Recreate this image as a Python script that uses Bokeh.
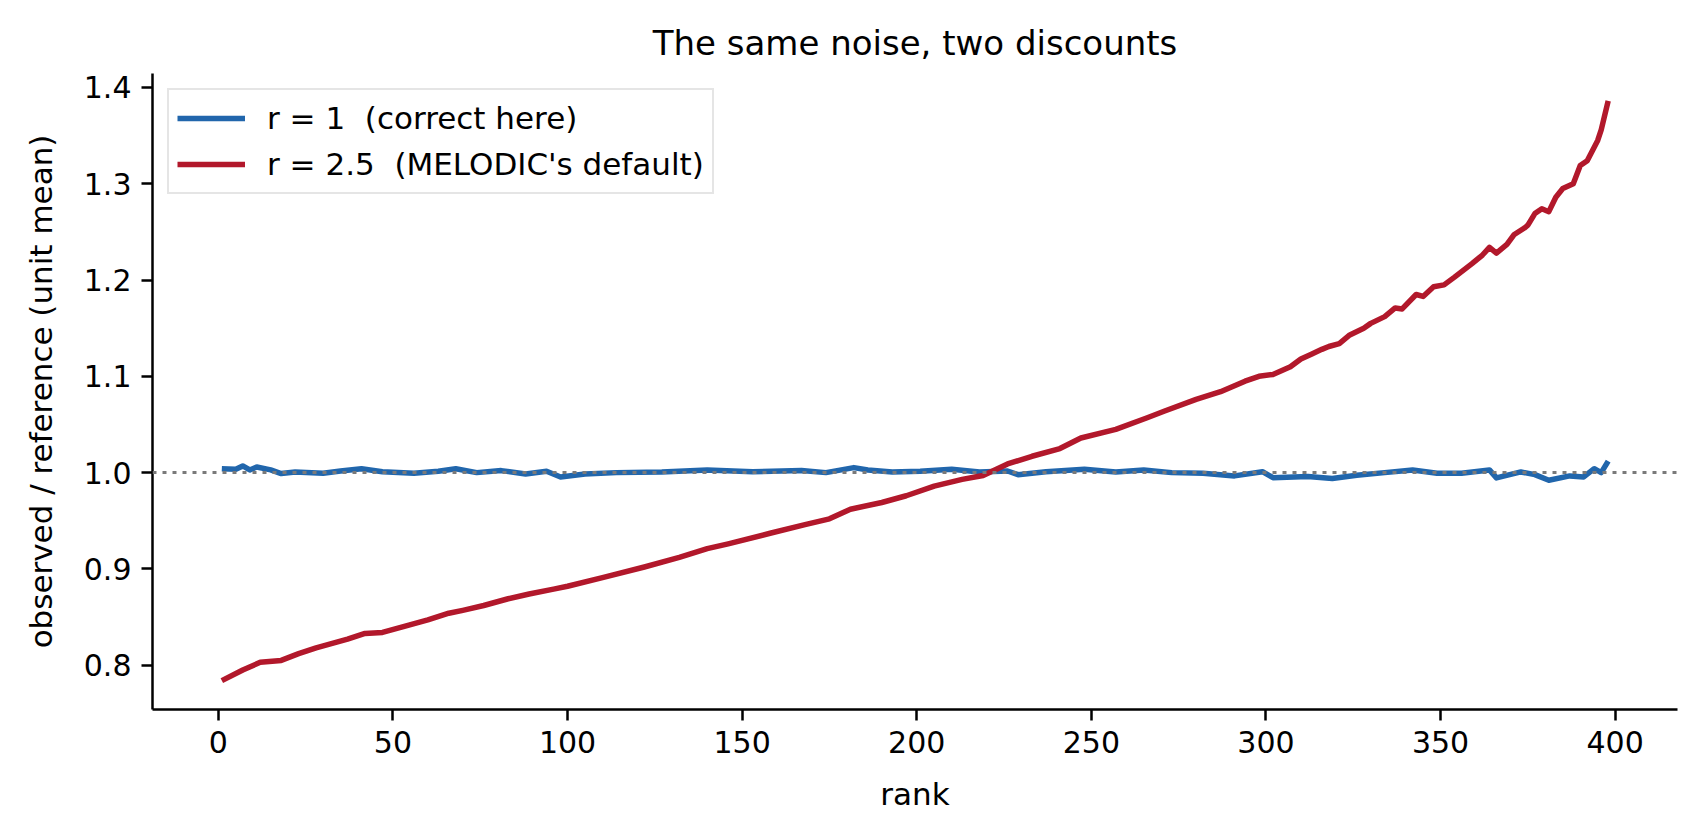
from bokeh.plotting import figure
from bokeh.models import Range1d, Span, FixedTicker, PrintfTickFormatter
from bokeh.embed import file_html
from bokeh.resources import INLINE

# ---- data ----
red_rank = [1, 7, 12, 18, 23, 28, 37, 42, 47, 53, 60, 66, 70, 76, 83, 89, 96, 100,
            110, 122, 132, 140, 146, 158, 168, 175, 181, 190, 197, 205, 213, 219,
            226, 233, 241, 247, 257, 266, 271, 280, 287, 294, 298, 302, 307, 310,
            313, 316, 318, 321, 324, 328, 330, 334, 337, 339, 343, 345, 348, 351,
            354, 359, 362, 364, 366, 369, 371, 374, 375, 377, 379, 381, 383, 385,
            388, 390, 392, 395, 396, 398]
red_vals = [0.784, 0.795, 0.803, 0.805, 0.812, 0.818, 0.827, 0.833, 0.834, 0.840,
            0.847, 0.854, 0.857, 0.862, 0.869, 0.874, 0.879, 0.882, 0.891, 0.902,
            0.912, 0.921, 0.926, 0.937, 0.946, 0.952, 0.962, 0.969, 0.976, 0.986,
            0.993, 0.997, 1.009, 1.017, 1.025, 1.036, 1.045, 1.057, 1.064, 1.076,
            1.084, 1.095, 1.100, 1.102, 1.110, 1.118, 1.123, 1.128, 1.131, 1.134,
            1.143, 1.150, 1.155, 1.162, 1.171, 1.170, 1.185, 1.183, 1.193, 1.195,
            1.203, 1.217, 1.226, 1.234, 1.228, 1.237, 1.247, 1.254, 1.257, 1.269,
            1.274, 1.271, 1.286, 1.295, 1.300, 1.319, 1.324, 1.345, 1.356, 1.386]

blue_rank = [1, 5, 7, 9, 11, 15, 18, 22, 30, 35, 41, 47, 56, 63, 68, 74, 81, 88, 94,
             98, 105, 114, 127, 140, 153, 167, 174, 182, 186, 193, 201, 210, 218,
             226, 229, 237, 248, 257, 265, 273, 282, 291, 299, 302, 312, 319, 326,
             334, 342, 349, 356, 364, 366, 373, 377, 381, 387, 391, 394, 396, 398]
blue_vals = [1.0040, 1.0034, 1.0069, 1.0028, 1.0059, 1.0028, 0.9990, 1.0007, 0.9993,
             1.0017, 1.0041, 1.0010, 0.9993, 1.0014, 1.0041, 1.0000, 1.0021, 0.9986,
             1.0014, 0.9955, 0.9986, 1.0000, 1.0007, 1.0028, 1.0010, 1.0021, 1.0000,
             1.0052, 1.0028, 1.0007, 1.0015, 1.0034, 1.0007, 1.0017, 0.9979, 1.0010,
             1.0034, 1.0007, 1.0028, 1.0000, 0.9993, 0.9966, 1.0010, 0.9948, 0.9959,
             0.9938, 0.9972, 1.0000, 1.0028, 0.9993, 0.9993, 1.0028, 0.9945, 1.0007,
             0.9979, 0.9921, 0.9966, 0.9955, 1.0041, 1.0000, 1.0120]

x_ticks = [0, 50, 100, 150, 200, 250, 300, 350, 400]
y_ticks = [0.8, 0.9, 1.0, 1.1, 1.2, 1.3, 1.4]

title_text = "The same noise, two discounts"
x_label = "rank"
y_label = "observed / reference (unit mean)"
blue_label = "r = 1  (correct here)"
red_label = "r = 2.5  (MELODIC's default)"

BLUE = "#2166ac"
RED = "#b2182b"
FONT = "DejaVu Sans"

p = figure(width=1684, height=824, output_backend="svg", toolbar_location=None,
           x_range=Range1d(-18.85, 417.85), y_range=Range1d(0.754, 1.4145),
           min_border_left=152, min_border_right=7, min_border_top=73,
           min_border_bottom=115)
p.outline_line_color = None
p.grid.visible = False
p.background_fill_color = "white"
p.border_fill_color = "white"

p.line(blue_rank, blue_vals, line_color=BLUE, line_width=5.5, line_join="round",
       legend_label=blue_label)
p.line(red_rank, red_vals, line_color=RED, line_width=5.5, line_join="round",
       legend_label=red_label)

p.add_layout(Span(location=1.0, dimension="width", line_color="#7a7a7a",
                  line_width=3, line_dash="4 6"))

# title
p.title.text = title_text
p.title.text_font = FONT
p.title.text_font_size = "34px"
p.title.text_font_style = "normal"
p.title.text_color = "black"
p.title.align = "center"
p.title.standoff = 22

# axes
for ax in (p.xaxis[0], p.yaxis[0]):
    ax.axis_line_width = 2.5
    ax.axis_line_color = "black"
    ax.major_tick_line_width = 2.5
    ax.major_tick_line_color = "black"
    ax.major_tick_out = 11
    ax.major_tick_in = 0
    ax.minor_tick_line_color = None
    ax.major_label_text_font = FONT
    ax.major_label_text_font_size = "30px"
    ax.major_label_text_color = "black"
    ax.axis_label_text_font = FONT
    ax.axis_label_text_font_size = "31px"
    ax.axis_label_text_font_style = "normal"
    ax.axis_label_text_color = "black"
    ax.major_label_standoff = 10

p.xaxis[0].ticker = FixedTicker(ticks=x_ticks)
p.yaxis[0].ticker = FixedTicker(ticks=y_ticks)
p.yaxis[0].formatter = PrintfTickFormatter(format="%.1f")
p.xaxis[0].axis_label = x_label
p.yaxis[0].axis_label = y_label
p.xaxis[0].axis_label_standoff = 20
p.yaxis[0].axis_label_standoff = 22

# legend
lg = p.legend[0]
lg.location = "top_left"
lg.margin = 15
lg.padding = 8
lg.spacing = 6
lg.glyph_width = 68
lg.glyph_height = 40
lg.label_height = 40
lg.label_standoff = 22
lg.label_text_font = FONT
lg.label_text_font_size = "31px"
lg.label_text_color = "black"
lg.border_line_color = "#cccccc"
lg.border_line_width = 2.5
lg.background_fill_color = "white"
lg.background_fill_alpha = 0.8

open("out.html", "w").write(file_html(p, INLINE))
